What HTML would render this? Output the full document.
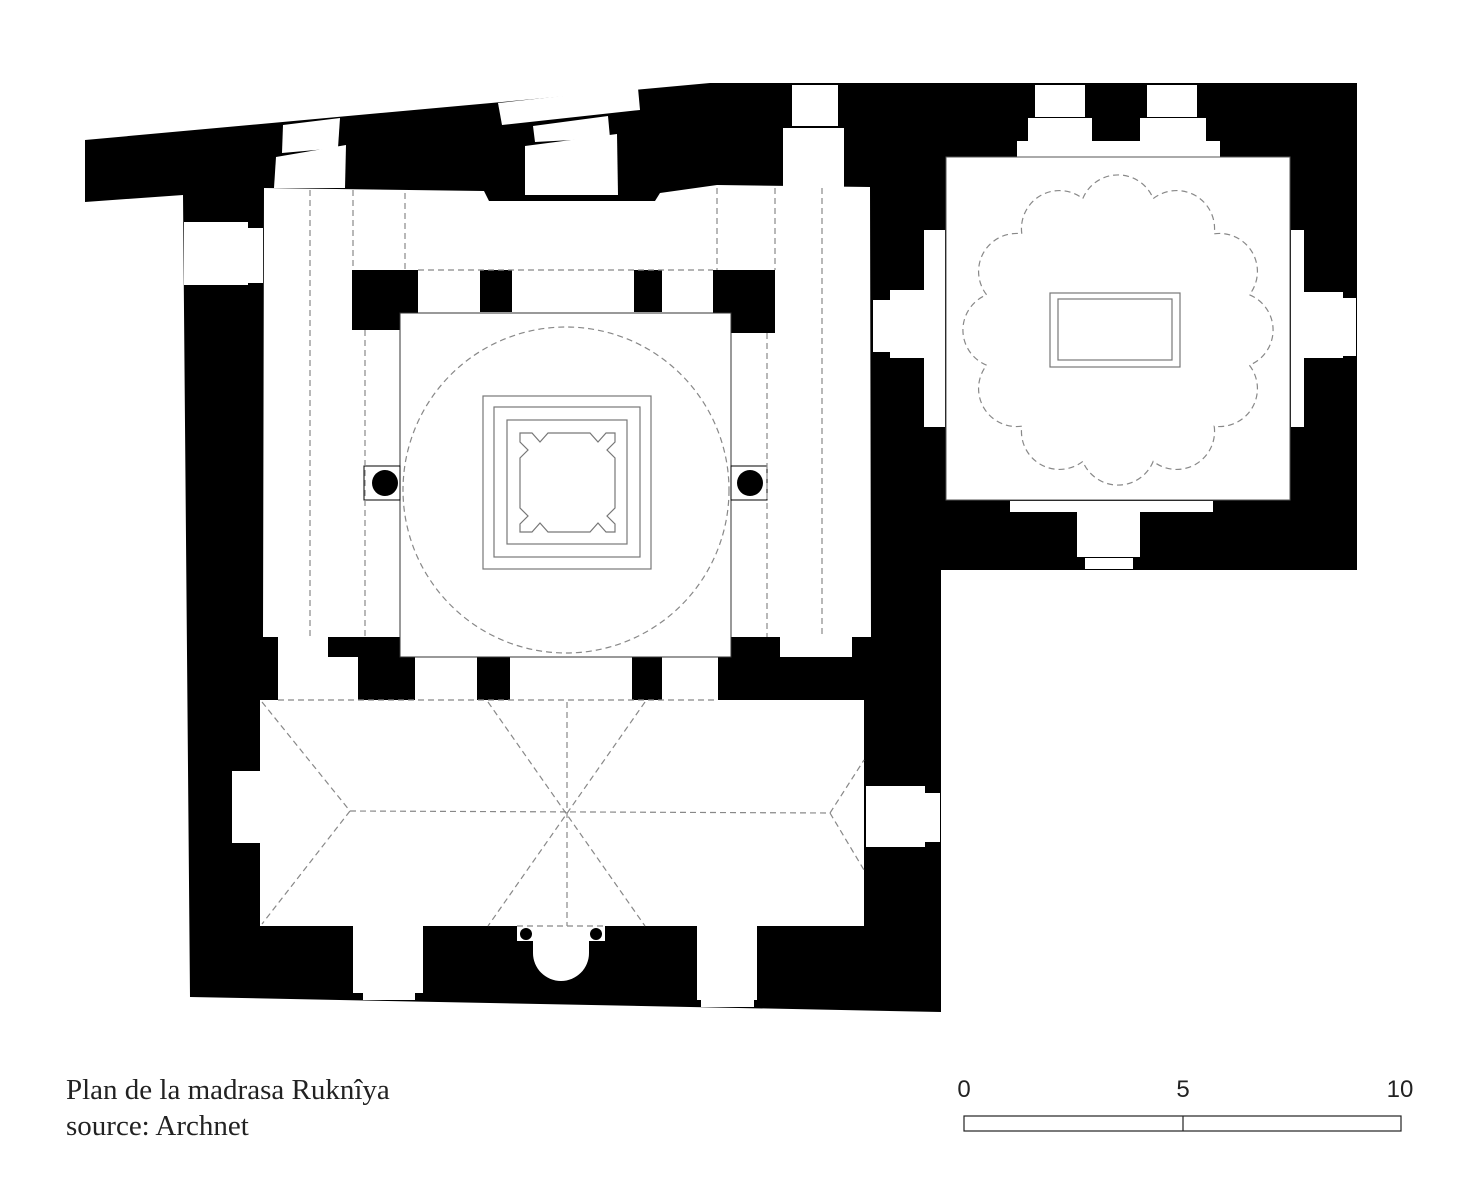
<!DOCTYPE html>
<html><head><meta charset="utf-8"><style>
html,body{margin:0;padding:0;background:#fff;}
svg{display:block}
</style></head><body>
<svg id="s" width="1484" height="1180" viewBox="0 0 1484 1180" xmlns="http://www.w3.org/2000/svg">
<rect width="1484" height="1180" fill="#fff"/>
<polygon points="85,140 710,83 1357,83 1357,570 941,570 941,1012 190,997 183,195 85,202" fill="#000"/>
<g fill="#fff">
<polygon points="283,125 340,118 338,148 282,153"/>
<polygon points="276,157 346,145 345,188 274,188"/>
<polygon points="498,103 638,88 640,110 502,125"/>
<polygon points="533,126 608,116 610,138 535,142"/>
<polygon points="525,146 617,134 618,195 525,195"/>
<rect x="792" y="85" width="46" height="41"/>
<rect x="783" y="128" width="61" height="59"/>
<rect x="1035" y="85" width="50" height="32"/>
<rect x="1147" y="85" width="50" height="32"/>
<rect x="1028" y="118" width="64" height="23"/>
<rect x="1140" y="118" width="66" height="23"/>
<rect x="1017" y="141" width="203" height="16"/>
<rect x="946" y="157" width="344" height="343" stroke="#555" stroke-width="1"/>
<rect x="924" y="230" width="21" height="197"/>
<rect x="890" y="290" width="35" height="68"/>
<rect x="873" y="300" width="17" height="52"/>
<rect x="1291" y="230" width="13" height="197"/>
<rect x="1304" y="292" width="39" height="66"/>
<rect x="1343" y="298" width="13" height="58"/>
<rect x="1010" y="501" width="203" height="11"/>
<rect x="1077" y="512" width="63" height="45"/>
<rect x="1085" y="558" width="48" height="11"/>
<polygon points="264,188 484,191 489,201 655,201 660,193 717,185 870,187 871,637 263,637"/>
<rect x="184" y="222" width="64" height="63"/>
<rect x="248" y="228" width="15" height="55"/>
<rect x="278" y="637" width="50" height="20"/>
<rect x="278" y="657" width="80" height="43"/>
<rect x="415" y="657" width="62" height="43"/>
<rect x="510" y="657" width="122" height="43"/>
<rect x="662" y="657" width="56" height="43"/>
<rect x="780" y="637" width="72" height="20"/>
<rect x="260" y="700" width="604" height="226"/>
<rect x="232" y="771" width="28" height="72"/>
<rect x="866" y="786" width="59" height="61"/>
<rect x="925" y="793" width="15" height="49"/>
<rect x="353" y="926" width="70" height="67"/>
<rect x="363" y="993" width="52" height="7"/>
<rect x="697" y="926" width="60" height="74"/>
<rect x="701" y="1000" width="53" height="7"/>
<rect x="517" y="926" width="88" height="15"/>
<path d="M533,941 L533,953 A28,28 0 0 0 589,953 L589,941 Z"/>
</g>
<g fill="#000">
<rect x="352" y="270" width="66" height="60"/>
<rect x="480" y="270" width="32" height="42"/>
<rect x="634" y="270" width="28" height="42"/>
<rect x="713" y="270" width="62" height="63"/>
<circle cx="526" cy="934" r="6"/>
<circle cx="596" cy="934" r="6"/>
</g>
<rect x="400" y="313" width="331" height="344" fill="#fff" stroke="#333" stroke-width="1"/>
<rect x="364" y="466" width="36" height="34" fill="#fff" stroke="#000"/>
<circle cx="385" cy="483" r="13" fill="#000"/>
<rect x="731" y="466" width="36" height="34" fill="#fff" stroke="#000"/>
<circle cx="750" cy="483" r="13" fill="#000"/>
<g fill="none" stroke="#888" stroke-width="1.2" stroke-dasharray="6,4">
<circle cx="566" cy="490" r="163"/>
<line x1="310" y1="190" x2="310" y2="637"/>
<line x1="353" y1="190" x2="353" y2="270"/>
<line x1="405" y1="193" x2="405" y2="270"/>
<line x1="717" y1="188" x2="717" y2="270"/>
<line x1="775" y1="188" x2="775" y2="270"/>
<line x1="822" y1="188" x2="822" y2="637"/>
<line x1="418" y1="270" x2="713" y2="270"/>
<line x1="365" y1="330" x2="365" y2="637"/>
<line x1="767" y1="333" x2="767" y2="637"/>
<line x1="262" y1="702" x2="350" y2="811"/>
<line x1="350" y1="811" x2="262" y2="924"/>
<line x1="350" y1="811" x2="830" y2="813"/>
<line x1="830" y1="813" x2="864" y2="760"/>
<line x1="830" y1="813" x2="864" y2="870"/>
<line x1="488" y1="702" x2="645" y2="926"/>
<line x1="645" y1="702" x2="488" y2="926"/>
<line x1="567" y1="702" x2="567" y2="926"/>
<line x1="278" y1="700" x2="718" y2="700"/>
<line x1="517" y1="926" x2="605" y2="926"/>
<path id="cloud" d=""/>
</g>
<g fill="none" stroke="#777" stroke-width="1.2">
<rect x="483" y="396" width="168" height="173"/>
<rect x="494" y="407" width="146" height="150"/>
<rect x="507" y="420" width="120" height="124"/>
<polygon points="520,433 532,433 540,442 548,433 590,433 598,442 606,433 615,433 615,442 607,450 615,458 615,508 607,516 615,524 615,532 606,532 598,523 590,532 548,532 540,523 532,532 520,532 520,524 528,516 520,508 520,458 528,450 520,442"/>
<rect x="1050" y="293" width="130" height="74"/>
<rect x="1058" y="299" width="114" height="61"/>
</g>
<g font-family="'Liberation Serif',serif" font-size="29" fill="#222">
<text x="66" y="1099">Plan de la madrasa Rukn&#238;ya</text>
<text x="66" y="1135">source: Archnet</text>
</g>
<g font-family="'Liberation Sans',sans-serif" font-size="24" fill="#222" text-anchor="middle">
<text x="964" y="1097">0</text>
<text x="1183" y="1097">5</text>
<text x="1400" y="1097">10</text>
</g>
<rect x="964" y="1116" width="437" height="15" fill="#fff" stroke="#222" stroke-width="1.2"/>
<line x1="1183" y1="1116" x2="1183" y2="1131" stroke="#222" stroke-width="1.2"/>
<script>
(function(){
var cx=1118,cy=330,R=136,n=12,d="";
for(var i=0;i<=n;i++){
 var a=(i*360/n+15)*Math.PI/180;
 var x=cx+R*Math.cos(a),y=cy+R*Math.sin(a);
 if(i==0)d+="M"+x.toFixed(1)+","+y.toFixed(1);
 else d+=" A38,38 0 0 1 "+x.toFixed(1)+","+y.toFixed(1);
}
document.getElementById("cloud").setAttribute("d",d+"Z");
})();
</script>
</svg>
</body></html>
